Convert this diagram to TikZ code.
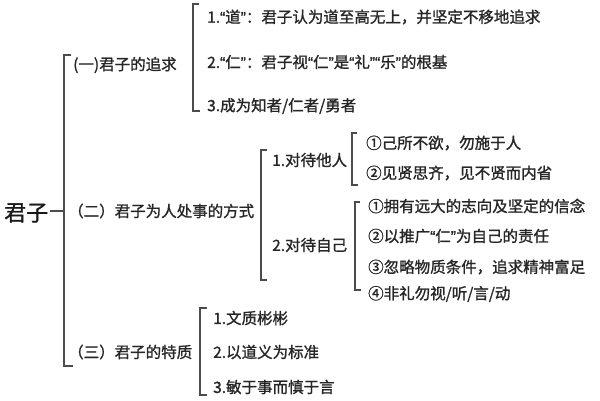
\documentclass[tikz,border=0pt]{standalone}
\usepackage{fontspec}
\setmainfont{Noto Sans CJK SC}
\newfontfamily\cjkb[FakeBold=1.2]{Noto Sans CJK SC}
\newfontfamily\latq[FakeBold=1.2]{Liberation Sans}
\newcommand\qo{{\latq “}}
\newcommand\qc{{\latq ”}}
\begin{document}
\begin{tikzpicture}[x=1pt,y=-1pt,
  txt/.style={anchor=west,inner sep=0pt,font=\cjkb\fontsize{15.5}{16}\selectfont,text=black!85},
  big/.style={anchor=west,inner sep=0pt,font=\cjkb\fontsize{22}{24}\selectfont,text=black!90},
  brk/.style={draw=black!70,line width=1.1pt}]
\useasboundingbox[fill=white] (0,0) rectangle (600,400);
% root
\node[big] (root) at (4,213) {君子};
% level 1
\node[txt] (a) at (73,65) {(一)君子的追求};
\node[txt] (b) at (68,211) {（二）君子为人处事的方式};
\node[txt] (c) at (68,352) {（三）君子的特质};
% main bracket
\coordinate (mT) at (64,55);
\coordinate (mB) at (64,366);
\coordinate (mJ) at (64,211);
\draw[brk] (71,55) -- (mT) -- (mB) -- (73,366);
\draw[brk] (root.east) ++(2,-2) -- (59,211) -- (mJ);
% group a
\node[txt] (a1) at (207,17) {1.\qo 道\qc：君子认为道至高无上，并坚定不移地追求};
\node[txt] (a2) at (207,62) {2.\qo 仁\qc：君子视\qo 仁\qc 是\qo 礼\qc\qo 乐\qc 的根基};
\node[txt] (a3) at (207,106) {3.成为知者/仁者/勇者};
\draw[brk] (199,4) -- (193,4) -- (193,111) -- (200,111);
% group b
\node[txt] (b1) at (272,160) {1.对待他人};
\node[txt] (b2) at (272,245) {2.对待自己};
\draw[brk] (267,150) -- (261,150) -- (261,280) -- (267,280);
\node[txt] (b11) at (366,143) {①己所不欲，勿施于人};
\node[txt] (b12) at (366,173) {②见贤思齐，见不贤而内省};
\draw[brk] (357,133) -- (352,133) -- (352,185) -- (358,185);
\node[txt] (b21) at (368,206) {①拥有远大的志向及坚定的信念};
\node[txt] (b22) at (368,236) {②以推广\qo 仁\qc 为自己的责任};
\node[txt] (b23) at (368,267) {③忽略物质条件，追求精神富足};
\node[txt] (b24) at (368,294) {④非礼勿视/听/言/动};
\draw[brk] (360,202) -- (355,202) -- (355,290) -- (361,290);
% group c
\node[txt] (c1) at (213,318) {1.文质彬彬};
\node[txt] (c2) at (213,352) {2.以道义为标准};
\node[txt] (c3) at (213,387) {3.敏于事而慎于言};
\draw[brk] (207,308) -- (200,308) -- (200,395) -- (207,395);
\end{tikzpicture}
\end{document}
